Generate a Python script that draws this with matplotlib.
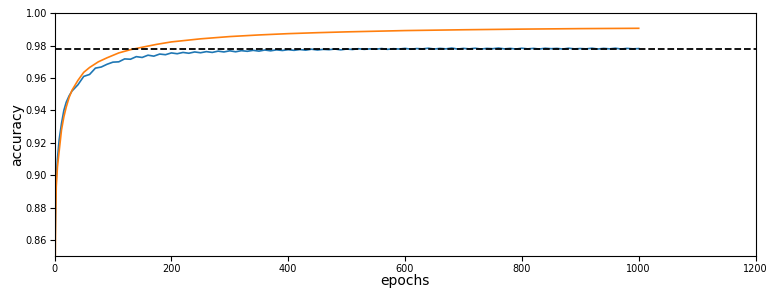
import matplotlib.pyplot as plt
import numpy as np

# validation accuracy (blue)
val_epochs = [1, 2, 3, 5, 8, 12, 16, 20, 25] + list(range(30, 1001, 10))
val_acc = [0.860, 0.885, 0.898, 0.910, 0.922, 0.932, 0.940, 0.945, 0.949,
           # 30 - 200
           0.9520, 0.9558, 0.9610, 0.9622, 0.9661, 0.9668, 0.9685, 0.9698, 0.9700,
           0.9718, 0.9716, 0.9732, 0.9727, 0.9741, 0.9735, 0.9748, 0.9744, 0.9755,
           # 210 - 300
           0.9750, 0.9758, 0.9753, 0.9761, 0.9756, 0.9763, 0.9758, 0.9766, 0.9761, 0.9768,
           # 310 - 400
           0.9762, 0.9769, 0.9765, 0.9771, 0.9766, 0.9773, 0.9768, 0.9774, 0.9770, 0.9775,
           # 410 - 500
           0.9771, 0.9776, 0.9772, 0.9778, 0.9773, 0.9777, 0.9775, 0.9779, 0.9774, 0.9779,
           # 510 - 600
           0.9776, 0.9781, 0.9777, 0.9780, 0.9778, 0.9782, 0.9777, 0.9781, 0.9779, 0.9783,
           # 610 - 700
           0.9778, 0.9782, 0.9780, 0.9784, 0.9779, 0.9783, 0.9780, 0.9785, 0.9779, 0.9783,
           # 710 - 800
           0.9780, 0.9784, 0.9779, 0.9783, 0.9781, 0.9785, 0.9780, 0.9783, 0.9779, 0.9784,
           # 810 - 900
           0.9780, 0.9783, 0.9779, 0.9784, 0.9781, 0.9783, 0.9779, 0.9784, 0.9780, 0.9782,
           # 910 - 1000
           0.9780, 0.9784, 0.9779, 0.9783, 0.9780, 0.9784, 0.9779, 0.9783, 0.9780, 0.9782]

# training accuracy (orange)
train_epochs = [1, 2, 3, 5, 8, 12, 16, 20, 25, 30, 40, 50, 60, 75, 90, 110, 130,
                150, 175, 200, 250, 300, 350, 400, 450, 500, 600, 700, 800, 900, 1000]
train_acc = [0.840, 0.875, 0.893, 0.905, 0.915, 0.928, 0.936, 0.942, 0.948, 0.9525,
             0.9585, 0.9635, 0.9665, 0.9700, 0.9725, 0.9755, 0.9775, 0.9790, 0.9808,
             0.9823, 0.9842, 0.9856, 0.9866, 0.9874, 0.9880, 0.9885, 0.9893, 0.9898,
             0.9902, 0.9905, 0.9907]

baseline = 0.978

fig = plt.figure(figsize=(7.81, 3.01), dpi=100)
ax = fig.add_axes([0.0698, 0.149, 0.8976, 0.807])

ax.plot(val_epochs, val_acc, color="#1f77b4", lw=1.2)
ax.plot(train_epochs, train_acc, color="#ff7f0e", lw=1.2)
ax.axhline(baseline, color="k", ls="--", lw=1.3)

ax.set_xlim(0, 1200)
ax.set_ylim(0.85, 1.0)
ax.set_xticks(np.arange(0, 1201, 200))
ax.set_yticks(np.arange(0.86, 1.001, 0.02))
ax.tick_params(labelsize=7, pad=2)
ax.set_xlabel("epochs", fontsize=10, labelpad=0)
ax.set_ylabel("accuracy", fontsize=10)
ax.yaxis.set_label_coords(-0.044, 0.5)

fig.savefig("out.png", dpi=100)
